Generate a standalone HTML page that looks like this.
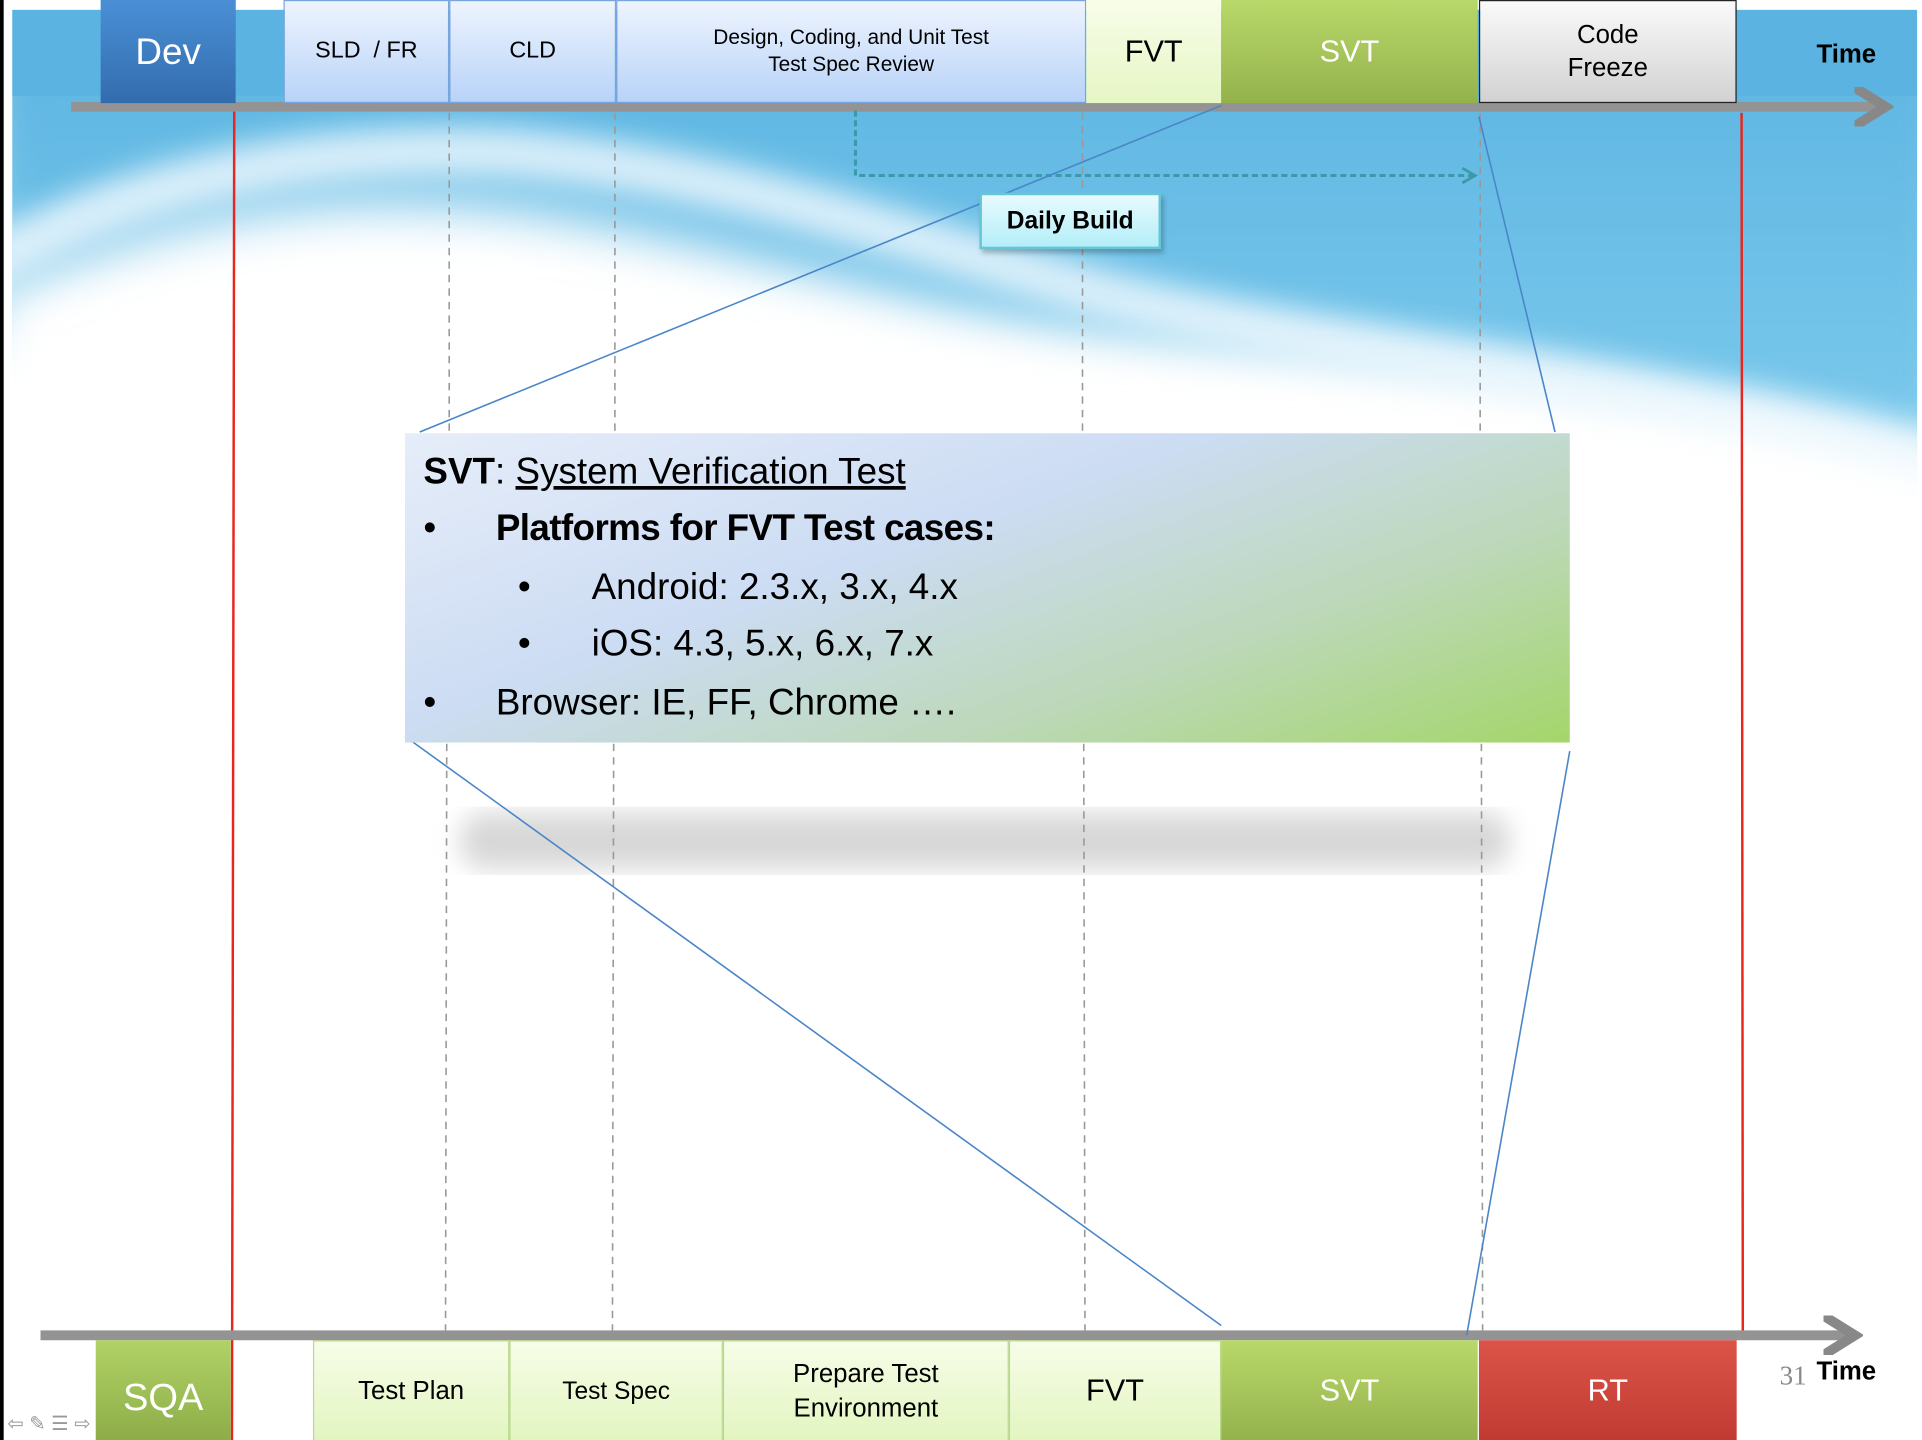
<!DOCTYPE html>
<html><head><meta charset="utf-8"><style>
html,body{margin:0;padding:0;background:#fff;overflow:hidden}
body{width:1922px;height:1440px;position:relative}
#w{position:absolute;left:0;top:0;width:1566px;height:1175px;transform:scale(1.22733);transform-origin:0 0;font-family:"Liberation Sans",sans-serif}
.b{position:absolute;box-sizing:border-box;display:flex;align-items:center;justify-content:center;text-align:center;line-height:1.3}
.t{position:absolute;white-space:nowrap}
</style></head><body><div id="w">
<svg width="1566" height="1175" style="position:absolute;left:0;top:0">
<defs>
<linearGradient id="sky" x1="0" y1="0" x2="0" y2="1"><stop offset="0" stop-color="#58b2e0"/><stop offset="1" stop-color="#7ccaec"/></linearGradient>
<filter id="bl" x="-10%" y="-30%" width="120%" height="160%"><feGaussianBlur stdDeviation="22"/></filter>
<filter id="bl2"><feGaussianBlur stdDeviation="10"/></filter>
<filter id="bl3" x="-10%" y="-50%" width="120%" height="200%"><feGaussianBlur stdDeviation="12"/></filter>
<clipPath id="cp"><rect x="10" y="8" width="1552" height="1167"/></clipPath>
<marker id="ar" viewBox="0 0 10 10" refX="6" refY="5" markerWidth="4" markerHeight="4" orient="auto"><path d="M0,0 L8,5 L0,10" fill="none" stroke="#888" stroke-width="2.5"/></marker>
<marker id="ar2" viewBox="0 0 10 10" refX="8" refY="5" markerWidth="6" markerHeight="6" orient="auto"><path d="M1,1 L8,5 L1,9" fill="none" stroke="#3a9aaa" stroke-width="1.5"/></marker>
</defs>
<rect x="0" y="0" width="3" height="1175" fill="#000"/>
<g clip-path="url(#cp)">
<path d="M-20,-20 L1600,-20 L1600,380 C1400,330 1150,290 900,280 C700,270 550,230 400,235 C250,240 100,270 -20,280 Z" fill="url(#sky)" filter="url(#bl)"/>
<rect x="10" y="8" width="1552" height="70" fill="#5ab3e0"/>
<path d="M-10,215 C100,150 250,115 420,125 C600,140 750,200 900,240 C1100,290 1350,310 1600,380" fill="none" stroke="#f4fbff" stroke-width="40" opacity="0.8" filter="url(#bl3)"/>
<path d="M-10,240 C150,165 300,150 450,175 C650,210 800,275 1000,300 C1200,325 1400,330 1600,390 L1600,600 L-10,600 Z" fill="#fff" filter="url(#bl)"/>
</g>
<rect x="375" y="662" width="855" height="46" rx="20" fill="#d8d8d8" filter="url(#bl2)"/>
<g stroke="#999" stroke-width="1.3" stroke-dasharray="6,5">
<line x1="366" y1="92" x2="366" y2="352"/><line x1="501" y1="92" x2="501" y2="352"/><line x1="882" y1="92" x2="882" y2="352"/><line x1="1206" y1="92" x2="1206" y2="352"/>
<line x1="364" y1="606" x2="363" y2="1084"/><line x1="500" y1="606" x2="499" y2="1084"/><line x1="883" y1="606" x2="884" y2="1084"/><line x1="1207" y1="606" x2="1208" y2="1084"/>
</g>
<line x1="191" y1="0" x2="189" y2="1175" stroke="#e8251e" stroke-width="2"/>
<line x1="1419" y1="92" x2="1420" y2="1088" stroke="#e8251e" stroke-width="2"/>
<line x1="58" y1="87" x2="1530" y2="87" stroke="#939393" stroke-width="8" marker-end="url(#ar)"/>
<line x1="33" y1="1088" x2="1505" y2="1088" stroke="#939393" stroke-width="8" marker-end="url(#ar)"/>
<path d="M697,90 L697,143 L1202,143" fill="none" stroke="#3a9aaa" stroke-width="2.5" stroke-dasharray="5,3" marker-end="url(#ar2)"/>
<g stroke="#4a86c8" stroke-width="1.3" fill="none">
<line x1="995" y1="86" x2="342" y2="352"/><line x1="1205" y1="95" x2="1267" y2="352"/>
<line x1="330" y1="600" x2="995" y2="1080"/><line x1="1279" y1="612" x2="1195" y2="1088"/>
</g>
</svg>
<div class="b" style="left:82px;top:0;width:110px;height:84px;background:linear-gradient(#4a8fd6,#336cad);color:#fff;font-size:30px">Dev</div>
<div class="b" style="left:231px;top:0;width:135px;height:84px;background:linear-gradient(#eef4fe,#b8d3f8);border:1px solid #79a5df;font-size:19px">SLD &nbsp;/ FR</div>
<div class="b" style="left:366px;top:0;width:136px;height:84px;background:linear-gradient(#eef4fe,#b8d3f8);border:1px solid #79a5df;font-size:19px">CLD</div>
<div class="b" style="left:502px;top:0;width:383px;height:84px;background:linear-gradient(#eef4fe,#b8d3f8);border:1px solid #79a5df;font-size:17px">Design, Coding, and Unit Test<br>Test Spec Review</div>
<div class="b" style="left:885px;top:0;width:110px;height:84px;background:linear-gradient(#f8fde9,#e6f6c4);font-size:25px">FVT</div>
<div class="b" style="left:995px;top:0;width:209px;height:84px;background:linear-gradient(#b9d86a,#94b24c);color:#fff;font-size:25px">SVT</div>
<div class="b" style="left:1205px;top:0;width:210px;height:84px;background:linear-gradient(#fafafa,#d2d2d2);border:1px solid #222;font-size:21px">Code<br>Freeze</div>
<div class="t" style="left:1480px;top:33px;font-size:21px;font-weight:bold">Time</div>
<div class="b" style="left:798px;top:157px;width:148px;height:46px;background:linear-gradient(#e8fbfe,#b4eef8);border:2px solid #66c6d6;font-size:20px;font-weight:bold;box-shadow:2px 3px 4px rgba(0,0,0,.25)">Daily Build</div>
<div style="position:absolute;left:330px;top:353px;width:949px;height:252px;background:linear-gradient(160deg,#e6edf9 0%,#ccdcf3 40%,#bcd8b8 70%,#a4d66a 100%)"></div>
<div class="t" style="left:345px;top:368px;font-size:30px"><b>SVT</b>: <u>System Verification Test</u></div>
<div class="t" style="left:345px;top:414px;font-size:30px">•</div>
<div class="t" style="left:404px;top:414px;font-size:30px;font-weight:bold;letter-spacing:-0.5px">Platforms for FVT Test cases:</div>
<div class="t" style="left:422px;top:462px;font-size:30px">•</div>
<div class="t" style="left:482px;top:462px;font-size:30px">Android: 2.3.x, 3.x, 4.x</div>
<div class="t" style="left:422px;top:508px;font-size:30px">•</div>
<div class="t" style="left:482px;top:508px;font-size:30px">iOS: 4.3, 5.x, 6.x, 7.x</div>
<div class="t" style="left:345px;top:556px;font-size:30px">•</div>
<div class="t" style="left:404px;top:556px;font-size:30px">Browser: IE, FF, Chrome ….</div>
<div class="b" style="left:78px;top:1092px;width:110px;height:83px;background:linear-gradient(#b1d266,#8dac48);color:#fff;font-size:31px;padding-top:12px">SQA</div>
<div class="b" style="left:255px;top:1092px;width:160px;height:83px;background:linear-gradient(#f7fde8,#e2f5c0);border:1px solid #b8d88a;font-size:21px">Test Plan</div>
<div class="b" style="left:415px;top:1092px;width:174px;height:83px;background:linear-gradient(#f7fde8,#e2f5c0);border:1px solid #b8d88a;font-size:20px">Test Spec</div>
<div class="b" style="left:589px;top:1092px;width:233px;height:83px;background:linear-gradient(#f7fde8,#e2f5c0);border:1px solid #b8d88a;font-size:21px">Prepare Test<br>Environment</div>
<div class="b" style="left:822px;top:1092px;width:173px;height:83px;background:linear-gradient(#f7fde8,#e2f5c0);border:1px solid #b8d88a;font-size:25px">FVT</div>
<div class="b" style="left:995px;top:1092px;width:209px;height:83px;background:linear-gradient(#b9d86a,#94b24c);color:#fff;font-size:25px">SVT</div>
<div class="b" style="left:1205px;top:1092px;width:210px;height:83px;background:linear-gradient(#dc5448,#c03a32);color:#fff;font-size:25px">RT</div>
<div class="t" style="left:1450px;top:1108px;font-size:22px;color:#888;font-family:'Liberation Serif',serif">31</div>
<div class="t" style="left:1480px;top:1106px;font-size:21px;font-weight:bold">Time</div>
<div class="t" style="left:6px;top:1150px;font-size:16px;color:#999">⇦ ✎ ☰ ⇨</div>
</div></body></html>
